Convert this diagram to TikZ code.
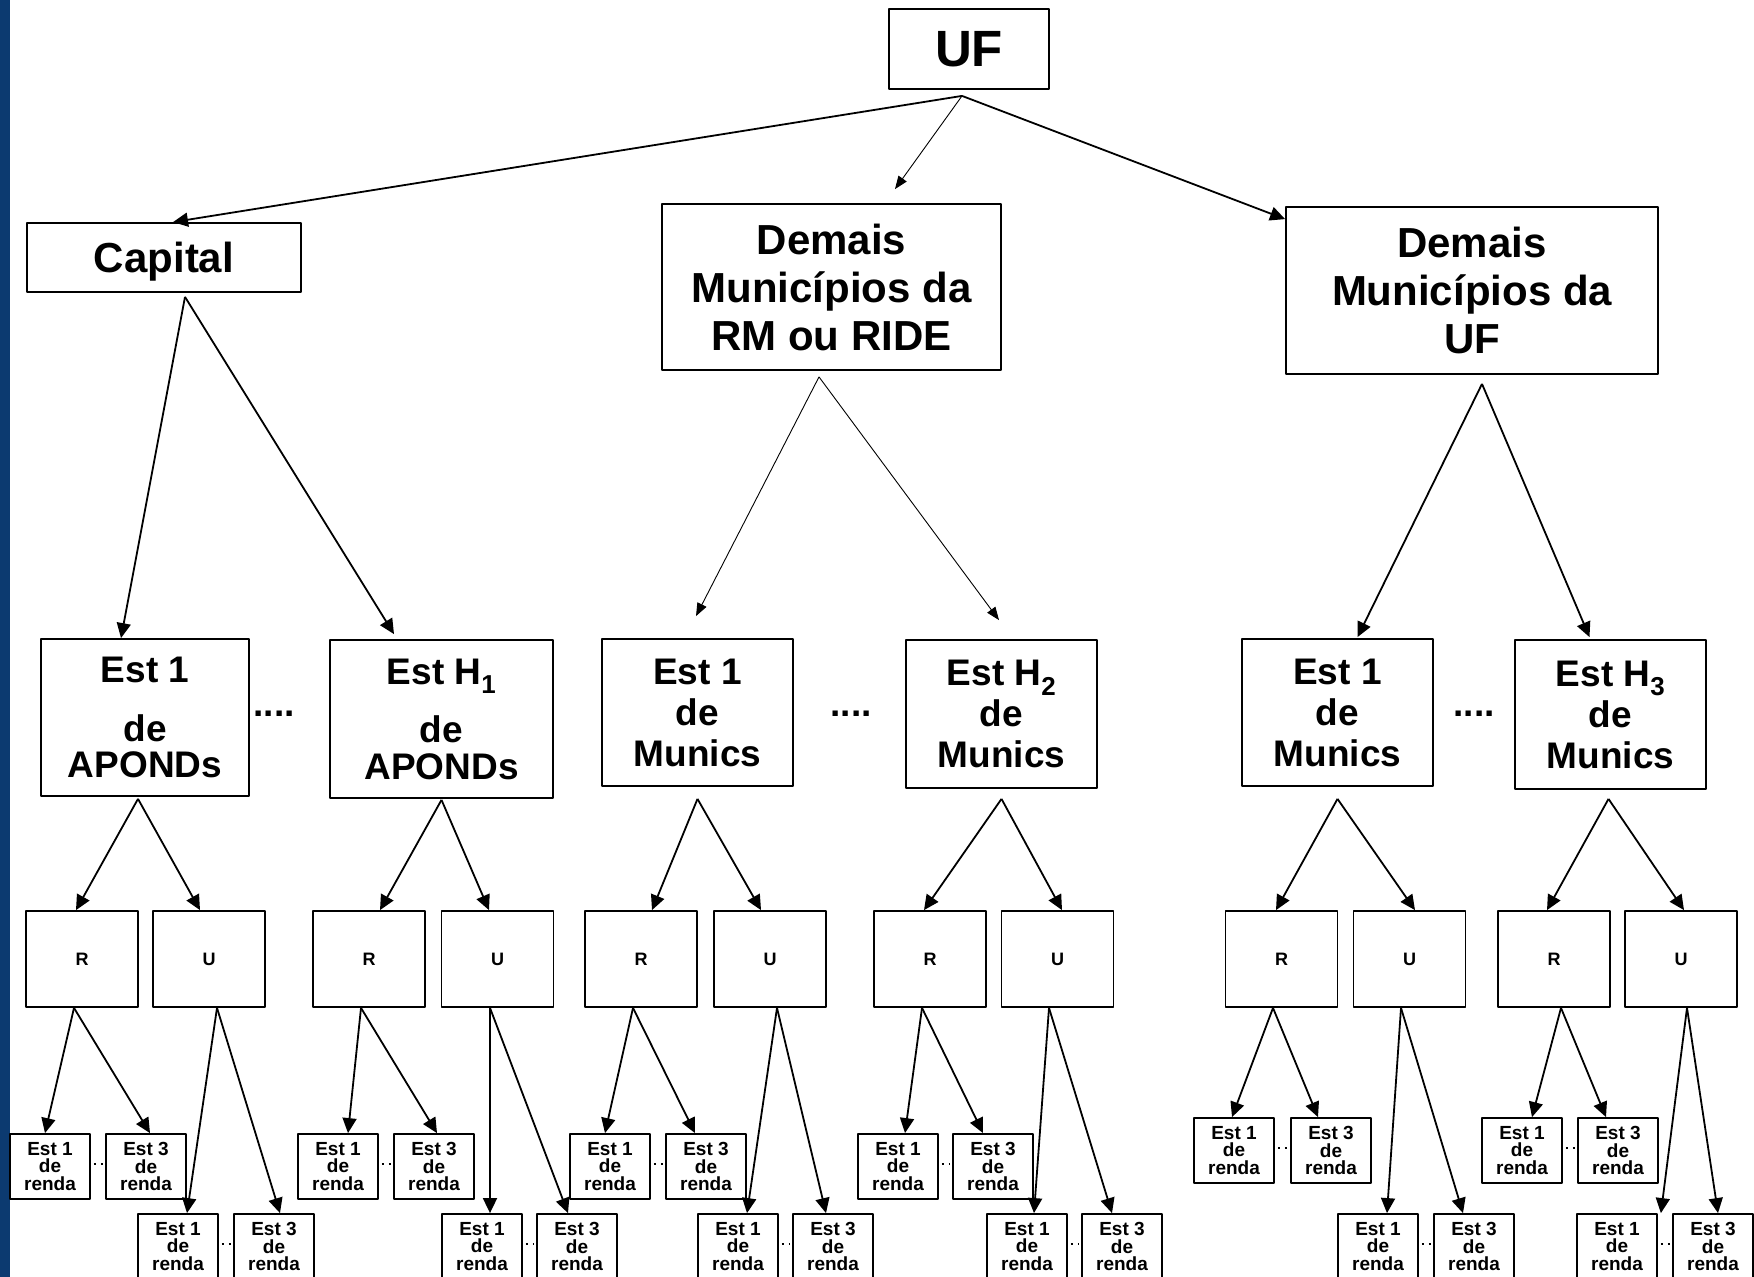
\documentclass[tikz,border=0pt]{standalone}
\usepackage{fontspec}
\setmainfont{Liberation Sans}
\usetikzlibrary{arrows.meta,calc}
\definecolor{barblue}{RGB}{12,58,112}
\begin{document}
\begin{tikzpicture}[x=1pt,y=-1pt,line join=round,
  bx/.style={draw,line width=1.8pt,inner sep=0pt,align=center,fill=white},
  fUF/.style={font=\fontsize{51}{60}\selectfont\bfseries},
  fBig/.style={font=\fontsize{42}{48}\selectfont\bfseries},
  fMid/.style={font=\fontsize{37}{41}\selectfont\bfseries},
  fRU/.style={font=\fontsize{18}{20}\selectfont\bfseries},
  fSm/.style={font=\fontsize{19}{17.7}\selectfont\bfseries},
  ru/.style={bx,fRU,minimum width=112pt,minimum height=96pt},
  sm/.style={bx,fSm,minimum width=80pt,minimum height=65pt},
  thk/.style={line width=1.8pt,-{Triangle[length=15pt,width=14pt]}},
  thn/.style={line width=0.9pt,-{Triangle[length=13pt,width=10pt]}},
  dotsep/.style={line width=2pt,dash pattern=on 2.5pt off 4.5pt}
]
\useasboundingbox (0,0) rectangle (1754,1277);
\clip (0,0) rectangle (1754,1277);
\fill[barblue] (0,0) rectangle (10,1277);

% level 0/1
\node[bx,fUF,minimum width=160pt,minimum height=80pt] (uf) at (969,49) {UF};
\node[bx,fBig,minimum width=274pt,minimum height=69pt,text depth=0pt] (capital) at (164,257.5) {Capital};
\node[bx,fBig,minimum width=339pt,minimum height=166pt] (demrm) at (831.5,287) {Demais\\Municípios da\\RM ou RIDE};
\node[bx,fBig,minimum width=372pt,minimum height=167pt] (demuf) at (1472,290.5) {Demais\\Municípios da\\UF};

% level 2
\node[bx,fMid,minimum width=208pt,minimum height=157pt] (e1a) at (145,717.5) {Est 1\\[17.6pt]de\\[-4.6pt]APONDs};
\node[bx,fMid,minimum width=223pt,minimum height=158pt] (eha) at (441.5,719) {Est H\textsubscript{1}\\[17.6pt]de\\[-4.6pt]APONDs};
\node[bx,fMid,minimum width=191pt,minimum height=147pt] (e1m) at (697.5,712.5) {Est 1\\de\\Munics};
\node[bx,fMid,minimum width=191pt,minimum height=148pt] (eh2) at (1001.5,714) {Est H\textsubscript{2}\\de\\Munics};
\node[bx,fMid,minimum width=191pt,minimum height=147pt] (e1u) at (1337.5,712.5) {Est 1\\de\\Munics};
\node[bx,fMid,minimum width=191pt,minimum height=149pt] (eh3) at (1610.5,714.5) {Est H\textsubscript{3}\\de\\Munics};

\node[fMid,anchor=base] (dots1) at (274,716) {....};
\node[fMid,anchor=base] (dots2) at (851,716) {....};
\node[fMid,anchor=base] (dots3) at (1474,716) {....};

% level 3
\foreach \n/\x/\t in {r1/82/R,u1/209/U,r2/369/R,u2/497.5/U,r3/641/R,u3/770/U,
  r4/930/R,u4/1057.5/U,r5/1281.5/R,u5/1409.5/U,r6/1554/R,u6/1681/U}
  \node[ru] (\n) at (\x,959) {\t};

% level 4
\foreach \n/\x/\y in {r1/50/1166.5,r2/338/1166.5,r3/610/1166.5,r4/898/1166.5,
  u1/178/1246.5,u2/482/1246.5,u3/738/1246.5,u4/1027/1246.5,u5/1378/1246.5,u6/1617/1246.5,
  r5/1234/1150.5,r6/1522/1150.5}
  \node[sm] (\n a) at (\x,\y) {Est 1\\de\\renda};
\foreach \n/\x/\y in {r1/146/1166.5,r2/434/1166.5,r3/706/1166.5,r4/993/1166.5,
  u1/274/1246.5,u2/577/1246.5,u3/833/1246.5,u4/1122/1246.5,u5/1474/1246.5,u6/1713/1246.5,
  r5/1331/1150.5,r6/1618/1150.5}
  \node[sm] (\n b) at (\x,\y) {Est 3\\de\\renda};

\foreach \n in {r1,r2,r3,r4,r5,r6,u1,u2,u3,u4,u5,u6}
  \draw[dotsep] ($(\n a.east)+(3,-3)$) -- ($(\n b.west)+(-2,-3)$);

% arrows from UF
\coordinate (ufs) at ($(uf.south)+(-7,6)$);
\draw[thk] (ufs) -- ($(capital.north)+(9,0)$);
\draw[thn] (ufs) -- ($(demrm.north)+(63.5,-14)$);
\draw[thk] (ufs) -- ($(demuf.north west)+(0,13)$);

% arrows from Capital
\coordinate (caps) at ($(capital.south)+(21,4)$);
\draw[thk] (caps) -- ($(e1a.north)+(-24,0)$);
\draw[thk] (caps) -- ($(eha.north)+(-47.5,-5)$);

% arrows from Demais RM
\coordinate (drs) at ($(demrm.south)+(-12.5,6)$);
\draw[thn] (drs) -- ($(e1m.north)+(-1.5,-22)$);
\draw[thn] (drs) -- ($(eh2.north)+(-2.5,-19)$);

% arrows from Demais UF
\coordinate (dus) at ($(demuf.south)+(10,9)$);
\draw[thk] (dus) -- ($(e1u.north)+(20,-1)$);
\draw[thk] (dus) -- ($(eh3.north)+(-21,-2)$);

% level 2 -> level 3
\foreach \p/\dx/\dy/\r/\rx/\u/\ux in {e1a/-7/2/r1/-6/u1/-9, eha/0/1/r2/11/u2/-8.5,
  e1m/0/12/r3/11/u3/-9, eh2/0/10/r4/-6/u4/4.5, e1u/0/12/r5/-5.5/u5/5.5, eh3/-2/9/r6/-7/u6/3}
{
  \coordinate (\p s) at ($(\p.south)+(\dx,\dy)$);
  \draw[thk] (\p s) -- ($(\r.north)+(\rx,0)$);
  \draw[thk] (\p s) -- ($(\u.north)+(\ux,0)$);
}

% level 3 -> level 4
\foreach \n/\ax/\ta/\tb in {r1/-8/-5/4, u1/8/9/6, r2/-8/10/3, u2/-7.5/8/-9,
  r3/-8/-5/-11, u3/7/9/-7, r4/-8/7/-10, u4/-8.5/7/-10, r5/-8.5/-2/-13,
  u5/-8.5/9/-11, r6/7/10/-12}
{
  \coordinate (\n s) at ($(\n.south)+(\ax,0)$);
  \draw[thk] (\n s) -- ($(\n a.north)+(\ta,0)$);
  \draw[thk] (\n s) -- ($(\n b.north)+(\tb,0)$);
}
\coordinate (u6s) at ($(u6.south)+(6,0)$);
\draw[thk] (u6s) -- ($(u6a.north east)+(3,0)$);
\draw[thk] (u6s) -- ($(u6b.north)+(5,0)$);
\end{tikzpicture}
\end{document}
